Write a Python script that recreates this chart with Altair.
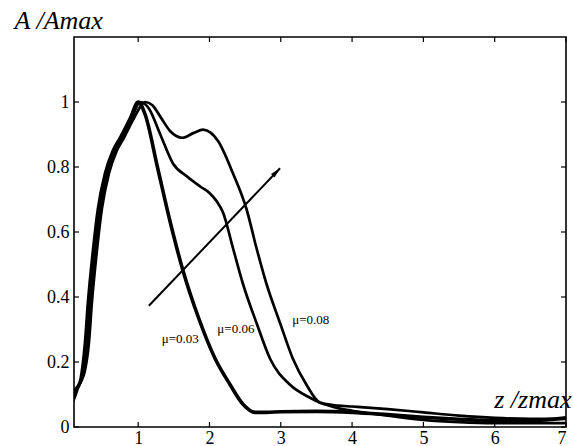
import altair as alt
import pandas as pd

# Normalised amplitude profiles A/Amax versus z/zmax for three values of mu
x_mu003 = [0.08, 0.1, 0.15, 0.2, 0.26, 0.3, 0.37, 0.44, 0.54, 0.65, 0.75, 0.89, 1.0, 1.1,
           1.27, 1.45, 1.63, 1.84, 2.08, 2.29, 2.47, 2.64, 2.8, 3.0, 3.5, 4.0, 4.5, 5.0,
           5.5, 6.0, 6.5, 7.0]
y_mu003 = [0.08, 0.09, 0.12, 0.15, 0.26, 0.38, 0.54, 0.67, 0.78, 0.85, 0.89, 0.95, 1.0, 0.96,
           0.80, 0.63, 0.48, 0.34, 0.21, 0.13, 0.07, 0.045, 0.045, 0.047, 0.048, 0.045, 0.038, 0.03,
           0.024, 0.02, 0.02, 0.028]

x_mu006 = [0.08, 0.1, 0.175, 0.225, 0.285, 0.325, 0.395, 0.465, 0.565, 0.675, 0.775, 0.91, 1.03,
           1.15, 1.31, 1.49, 1.69, 1.87, 2.0, 2.1, 2.19, 2.33, 2.47, 2.66, 2.85, 3.13, 3.41, 3.55,
           3.8, 4.0, 4.5, 5.0, 5.5, 6.0, 7.0]
y_mu006 = [0.09, 0.1, 0.13, 0.16, 0.26, 0.38, 0.54, 0.67, 0.78, 0.85, 0.89, 0.95, 1.0, 0.98,
           0.90, 0.81, 0.77, 0.74, 0.72, 0.695, 0.66, 0.55, 0.44, 0.32, 0.21, 0.13, 0.09, 0.075,
           0.058, 0.05, 0.035, 0.022, 0.015, 0.012, 0.012]

x_mu008 = [0.08, 0.1, 0.2, 0.25, 0.31, 0.35, 0.42, 0.49, 0.59, 0.7, 0.8, 0.94, 1.1, 1.2,
           1.31, 1.45, 1.62, 1.78, 1.91, 2.02, 2.12, 2.33, 2.52, 2.66, 2.8, 2.99, 3.17, 3.36,
           3.55, 3.8, 4.0, 4.5, 5.0, 5.5, 6.0, 6.5, 7.0]
y_mu008 = [0.1, 0.11, 0.14, 0.17, 0.26, 0.38, 0.54, 0.67, 0.78, 0.85, 0.89, 0.95, 1.0, 0.99,
           0.955, 0.91, 0.89, 0.905, 0.915, 0.905, 0.88, 0.78, 0.67, 0.55, 0.44, 0.32, 0.21, 0.13,
           0.075, 0.066, 0.063, 0.055, 0.045, 0.035, 0.028, 0.025, 0.025]

# Curve annotations
label_text = ["\u03bc=0.03", "\u03bc=0.06", "\u03bc=0.08"]
label_x = [1.59, 2.37, 3.42]
label_y = [0.272, 0.302, 0.330]

# Arrow showing increasing mu
arrow_x = [1.15, 2.99]
arrow_y = [0.373, 0.796]

# Tick values
x_ticks = [1, 2, 3, 4, 5, 6, 7]
y_ticks = [0, 0.2, 0.4, 0.6, 0.8, 1.0]

SERIF = "Liberation Serif"
W, H = 492, 390

curves = pd.concat([
    pd.DataFrame({"z": x_mu003, "a": y_mu003, "mu": "0.03", "w": 3.6}),
    pd.DataFrame({"z": x_mu006, "a": y_mu006, "mu": "0.06", "w": 2.7}),
    pd.DataFrame({"z": x_mu008, "a": y_mu008, "mu": "0.08", "w": 2.7}),
])

xscale = alt.Scale(domain=[0.1, 7], nice=False, zero=False)
yscale = alt.Scale(domain=[0, 1.2], nice=False)

xaxis = alt.Axis(values=x_ticks, format="~g", tickSize=0, labelPadding=2, domain=False,
                 grid=False, labelFontSize=18, labelColor="black",
                 title="z /zmax", titleFontSize=26, titleFontStyle="italic",
                 titleFontWeight="normal", titleColor="black", titleX=497, titleY=-20,
                 titleAlign="right", titleBaseline="alphabetic")
yaxis = alt.Axis(values=y_ticks, format="~g", tickSize=0, labelPadding=5, domain=False,
                 grid=False, labelFontSize=18, labelColor="black",
                 title="A /Amax", titleFontSize=26, titleFontStyle="italic",
                 titleFontWeight="normal", titleColor="black", titleAngle=0, titleX=-60,
                 titleY=-9, titleAlign="left", titleBaseline="alphabetic")

lines = alt.Chart(curves).mark_line(color="black", interpolate="monotone", clip=True).encode(
    x=alt.X("z:Q", scale=xscale, axis=xaxis),
    y=alt.Y("a:Q", scale=yscale, axis=yaxis),
    detail="mu:N",
    strokeWidth=alt.StrokeWidth("w:Q", scale=None, legend=None),
)

labels = alt.Chart(pd.DataFrame({"t": label_text, "x": label_x, "y": label_y})).mark_text(
    fontSize=13, color="black", align="center", baseline="middle"
).encode(x=alt.X("x:Q", scale=xscale), y=alt.Y("y:Q", scale=yscale), text="t:N")

arrow_df = pd.DataFrame({"x": arrow_x, "y": arrow_y})
arrow_line = alt.Chart(arrow_df).mark_line(color="black", strokeWidth=2).encode(
    x=alt.X("x:Q", scale=xscale), y=alt.Y("y:Q", scale=yscale)
)
arrow_head = alt.Chart(arrow_df.tail(1)).mark_point(
    shape="M0,0 L-0.5,2.1 L0.5,2.1 Z", filled=True, color="black", opacity=1,
    size=100, angle=44
).encode(x=alt.X("x:Q", scale=xscale), y=alt.Y("y:Q", scale=yscale))

# Inward ticks on all four sides of the frame
xt = pd.DataFrame({"v": x_ticks})
yt = pd.DataFrame({"v": y_ticks})
tick_style = dict(color="black", strokeWidth=1.2)
bottom_ticks = alt.Chart(xt).mark_rule(**tick_style).encode(
    x=alt.X("v:Q", scale=xscale), y=alt.value(H), y2=alt.value(H - 5))
top_ticks = alt.Chart(xt).mark_rule(**tick_style).encode(
    x=alt.X("v:Q", scale=xscale), y=alt.value(0), y2=alt.value(5))
left_ticks = alt.Chart(yt).mark_rule(**tick_style).encode(
    y=alt.Y("v:Q", scale=yscale), x=alt.value(0), x2=alt.value(5))
right_ticks = alt.Chart(yt).mark_rule(**tick_style).encode(
    y=alt.Y("v:Q", scale=yscale), x=alt.value(W), x2=alt.value(W - 5))

chart = alt.layer(
    lines, labels, arrow_line, arrow_head,
    bottom_ticks, top_ticks, left_ticks, right_ticks
).properties(
    width=W, height=H,
    autosize=alt.AutoSizeParams(type="none"),
    padding={"left": 74, "top": 37, "right": 7, "bottom": 19},
    background="white",
).configure(
    font=SERIF
).configure_axis(
    labelFont=SERIF, titleFont=SERIF
).configure_text(
    font=SERIF
).configure_view(stroke="black", strokeWidth=1.6)

chart.save("out.html", embed_options={"renderer": "svg", "actions": False})
